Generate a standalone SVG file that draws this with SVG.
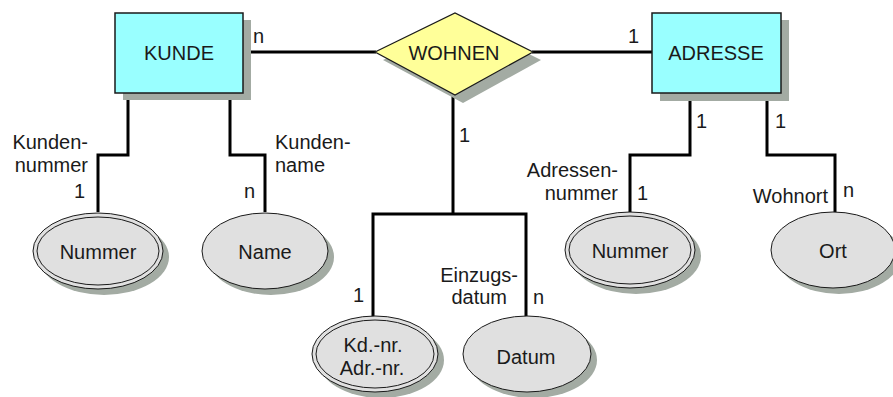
<svg xmlns="http://www.w3.org/2000/svg" width="893" height="397" viewBox="0 0 893 397">
  <style>
    text { font-family: "Liberation Sans", Arial, sans-serif; font-size: 20px; fill: #1a1a1a; }
    .mid { text-anchor: middle; }
    .end { text-anchor: end; }
    .entity { fill: #99ffff; stroke: #1a1a1a; stroke-width: 1.5; }
    .rel { fill: #ffff99; stroke: #1a1a1a; stroke-width: 1.2; }
    .attr { fill: #e0e0e0; stroke: #1a1a1a; stroke-width: 1; }
    .shadow { fill: #a3aba3; }
    .conn { fill: none; stroke: #000; stroke-width: 3; }
  </style>

  <!-- connectors -->
  <g id="connectors">
    <line class="conn" x1="243" y1="52" x2="376" y2="52"/>
    <line class="conn" x1="532" y1="52" x2="652" y2="52"/>
    <polyline class="conn" points="128,93 128,155 98,155 98,212"/>
    <polyline class="conn" points="230,93 230,155 265,155 265,212"/>
    <polyline class="conn" points="453,95 453,214"/>
    <polyline class="conn" points="373,317 373,214 526,214 526,317"/>
    <polyline class="conn" points="690,93 690,155 630,155 630,212"/>
    <polyline class="conn" points="767,93 767,155 835,155 835,212"/>
  </g>

  <!-- connector labels -->
  <g id="labels">
    <text x="253" y="43">n</text>
    <text x="628" y="43">1</text>
    <text x="88" y="149" class="end">Kunden-</text>
    <text x="88" y="172" class="end">nummer</text>
    <text x="85" y="198" class="end">1</text>
    <text x="275" y="149">Kunden-</text>
    <text x="275" y="172">name</text>
    <text x="244" y="198">n</text>
    <text x="459" y="142">1</text>
    <text x="618" y="177" class="end">Adressen-</text>
    <text x="618" y="200" class="end">nummer</text>
    <text x="637" y="200">1</text>
    <text x="696" y="128">1</text>
    <text x="775" y="128">1</text>
    <text x="828" y="203" class="end">Wohnort</text>
    <text x="843" y="197">n</text>
    <text x="353" y="302">1</text>
    <text x="518" y="282" class="end">Einzugs-</text>
    <text x="507" y="304" class="end">datum</text>
    <text x="533" y="304">n</text>
  </g>

  <!-- entities -->
  <g id="kunde">
    <rect class="shadow" x="123" y="20" width="128" height="80"/>
    <rect class="entity" x="115" y="13" width="128" height="80"/>
    <text x="179" y="60" class="mid">KUNDE</text>
  </g>
  <g id="adresse">
    <rect class="shadow" x="660" y="20" width="129" height="81"/>
    <rect class="entity" x="652" y="13" width="129" height="80"/>
    <text x="716" y="60" class="mid">ADRESSE</text>
  </g>

  <!-- relationship -->
  <g id="wohnen">
    <polygon class="shadow" points="383,60 463,21 541,60 463,103"/>
    <polygon class="rel" points="375,52 455,13 533,52 455,95"/>
    <text x="454" y="60" class="mid">WOHNEN</text>
  </g>

  <!-- attributes -->
  <g id="kundennummer">
    <ellipse class="shadow" cx="104" cy="257" rx="65" ry="38"/>
    <ellipse class="attr" cx="98" cy="251" rx="65" ry="38"/>
    <ellipse class="attr" cx="98" cy="251" rx="61" ry="34"/>
    <text x="98" y="259" class="mid">Nummer</text>
  </g>
  <g id="kundenname">
    <ellipse class="shadow" cx="271" cy="257" rx="63" ry="38"/>
    <ellipse class="attr" cx="265" cy="251" rx="63" ry="38"/>
    <text x="265" y="259" class="mid">Name</text>
  </g>
  <g id="adressennummer">
    <ellipse class="shadow" cx="636" cy="256" rx="65" ry="38"/>
    <ellipse class="attr" cx="630" cy="250" rx="65" ry="38"/>
    <ellipse class="attr" cx="630" cy="250" rx="61" ry="34"/>
    <text x="630" y="258" class="mid">Nummer</text>
  </g>
  <g id="wohnort">
    <ellipse class="shadow" cx="839" cy="256" rx="62" ry="38"/>
    <ellipse class="attr" cx="833" cy="250" rx="62" ry="38"/>
    <text x="833" y="258" class="mid">Ort</text>
  </g>
  <g id="schluessel">
    <ellipse class="shadow" cx="381" cy="360" rx="63" ry="38"/>
    <ellipse class="attr" cx="375" cy="354" rx="63" ry="38"/>
    <ellipse class="attr" cx="375" cy="354" rx="59" ry="34"/>
    <text x="373" y="352" class="mid">Kd.-nr.</text>
    <text x="372" y="375" class="mid">Adr.-nr.</text>
  </g>
  <g id="datum">
    <ellipse class="shadow" cx="533" cy="360" rx="64" ry="38"/>
    <ellipse class="attr" cx="527" cy="354" rx="64" ry="38"/>
    <text x="526" y="364" class="mid">Datum</text>
  </g>
</svg>
